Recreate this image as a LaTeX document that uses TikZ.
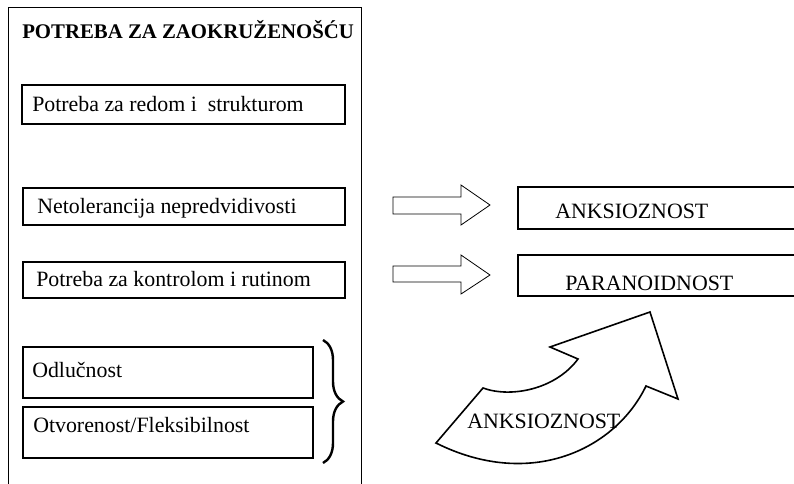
\documentclass[tikz,border=0pt]{standalone}
\usepackage{fontspec}
\setmainfont{Liberation Serif}
\usetikzlibrary{decorations.pathreplacing}

\begin{document}
\begin{tikzpicture}[x=0.75pt,y=0.75pt,yscale=-1,xscale=1,
  txt/.style={anchor=base west,inner sep=0pt,font=\fontsize{16.4}{19}\selectfont},
  boks/.style={line width=1.4pt}]
\useasboundingbox (0,0) rectangle (794,483);

%Shape: Rectangle [outer panel]
\draw [line width=0.6pt]  (8,7) -- (361,7) -- (361,495) ;
\draw [line width=0.6pt]  (8,7) -- (8,495) ;

% Text Node
\node [anchor=base west,inner sep=0pt,font=\fontsize{15.6}{18}\selectfont\bfseries] (naslov) at (22,38) {POTREBA ZA ZAOKRUŽENOŠĆU};

%Shape: Rectangle
\draw [boks]  (22,85) rectangle (345,124) ;
% Text Node
\node [txt] (redom) at (32,111) {Potreba za redom i\ \ strukturom};

%Shape: Rectangle
\draw [boks]  (23,188) rectangle (345,225) ;
% Text Node
\node [txt] (netol) at (37,213) {Netolerancija nepredvidivosti};

%Shape: Rectangle
\draw [boks]  (23,262) rectangle (345,298) ;
% Text Node
\node [txt] (kontrola) at (36,286) {Potreba za kontrolom i rutinom};

%Shape: Rectangle
\draw [boks]  (23,347) rectangle (313,398) ;
% Text Node
\node [txt] (odlucnost) at (32,377) {Odlučnost};

%Shape: Rectangle
\draw [boks]  (23,407) rectangle (313,458) ;
% Text Node
\node [txt] (otvorenost) at (33,432) {Otvorenost/Fleksibilnost};

%Shape: Brace
\draw [line width=1.8pt,decorate,decoration={brace,amplitude=15pt}]  (323,340) -- (323,463) ;

%Shape: Right Arrow
\draw [line width=0.6pt]  (393,197) -- (461,197) -- (461,185) -- (490,205) -- (461,225) -- (461,214) -- (393,214) -- cycle ;
%Shape: Right Arrow
\draw [line width=0.6pt]  (393,266) -- (461,266) -- (461,255) -- (490,275) -- (461,294) -- (461,282) -- (393,282) -- cycle ;

%Shape: Rectangle
\draw [boks]  (518,187) rectangle (810,229) ;
% Text Node
\node [txt] (anks) at (555,218) {ANKSIOZNOST};

%Shape: Rectangle
\draw [boks]  (518,255) rectangle (810,296) ;
% Text Node
\node [txt] (paran) at (565,290) {PARANOIDNOST};

%Shape: Curved Arrow
\draw [line width=1.2pt,line join=miter]  (436,443) -- (483,388) .. controls (510,398) and (555,390) .. (578,359) -- (550,347) -- (650,312) -- (678,399) -- (646,386) .. controls (615,450) and (530,490) .. cycle ;
% Text Node
\node [txt] (anks2) at (467,428) {ANKSIOZNOST};

\end{tikzpicture}
\end{document}
